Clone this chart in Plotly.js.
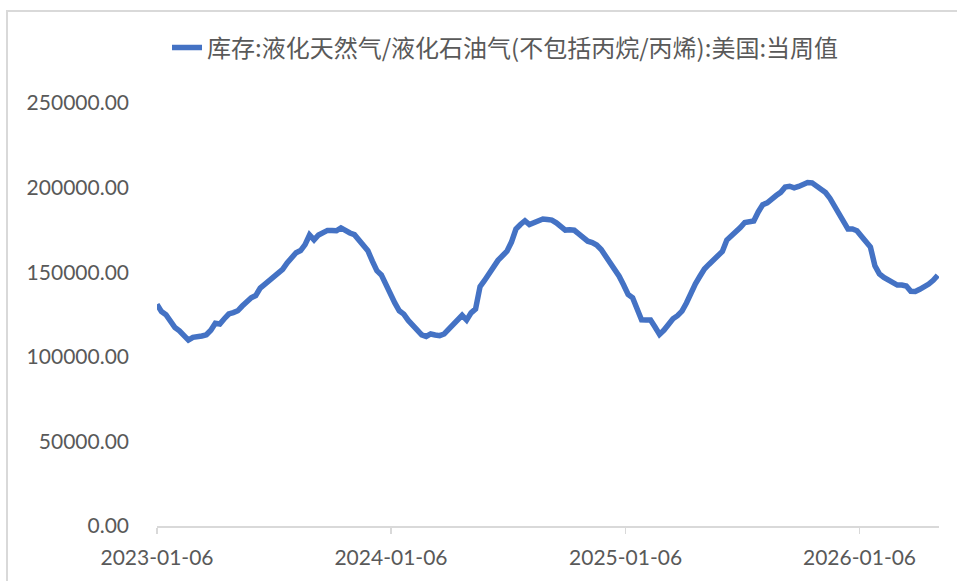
<!DOCTYPE html>
<html>
<head>
<meta charset="utf-8">
<script src="https://cdn.plot.ly/plotly-3.0.1.min.js"></script>
<style>
  html, body { margin: 0; padding: 0; background: #fff; }
  #wrap { position: relative; width: 957px; height: 581px; overflow: hidden; }
  #chart { width: 957px; height: 581px; }
  #frame { position: absolute; left: 6px; top: 10px; width: 960px; height: 580px;
           border-left: 2px solid #d9d9d9; border-top: 2px solid #d9d9d9; pointer-events: none; }
</style>
</head>
<body>
<div id="wrap">
  <div id="chart"></div>
  <div id="frame"></div>
</div>
<script>
// Weekly series, first observation date
const startDate = '2023-01-06';
const seriesName = '库存:液化天然气/液化石油气(不包括丙烷/丙烯):美国:当周值';

// Inventory values
const inventory = [
  131000, 126700, 124900, 120700, 117300, 115400, 112600, 109900, 111500, 112300,
  112300, 113000, 115700, 119800, 119400, 122500, 125300, 126100, 127200, 130000,
  132700, 134900, 136200, 140600, 142800, 144900, 147500, 149000, 151700, 155500,
  158700, 161500, 162800, 166300, 172000, 169100, 172000, 173700, 174700, 174700,
  174500, 176200, 174500, 173200, 172200, 169000, 165900, 162700, 156500, 150900,
  148400, 142300, 137000, 131800, 127200, 125200, 121500, 118900, 115900, 113000,
  112000, 113500, 112900, 112500, 113500, 116100, 119400, 122300, 124500, 121700,
  126000, 128300, 141500, 145100, 149600, 153500, 157000, 159700, 162400, 167800,
  175500, 178200, 180400, 178100, 179300, 180700, 181400, 181100, 180800, 179200,
  177100, 174900, 175100, 174800, 172700, 170600, 168300, 167500, 166100, 163400,
  159500, 155500, 151600, 147600, 142400, 136800, 134900, 127200, 121800, 121700,
  121700, 117600, 113200, 115800, 119500, 122500, 124300, 127000, 131800, 138400,
  143100, 147600, 151900, 154600, 157200, 159300, 162300, 169000, 171200, 173500,
  176400, 179400, 179700, 180300, 185600, 189900, 191000, 192700, 195300, 197200,
  200300, 200800, 199800, 200700, 202100, 203000, 202800, 201100, 199100, 197100,
  193600, 189300, 184800, 181100, 175500, 175500, 174500, 171200, 167700, 164900,
  153800, 149000, 146900, 145400, 143400, 142400, 142400, 141800, 138700, 138600,
  139900, 141200, 143000, 145200, 148100
];

// Tick labels
const xTickVals = ['2023-01-06', '2024-01-06', '2025-01-06', '2026-01-06'];
const yTickVals = [0, 50000, 100000, 150000, 200000, 250000];

// weekly dates for each observation
const dates = inventory.map((_, i) => {
  const d = new Date(startDate + 'T00:00:00Z');
  d.setUTCDate(d.getUTCDate() + 7 * i);
  return d.toISOString().slice(0, 10);
});

const trace = {
  x: dates,
  y: inventory,
  type: 'scatter',
  mode: 'lines',
  name: seriesName,
  line: { color: '#4472C4', width: 5.5, shape: 'linear' },
  hoverinfo: 'x+y'
};

const layout = {
  width: 957,
  height: 581,
  margin: { l: 157, r: 18, t: 103, b: 55 },
  paper_bgcolor: '#ffffff',
  plot_bgcolor: '#ffffff',
  font: { family: 'Lato, "Noto Sans CJK SC", sans-serif', size: 21, color: '#595959' },
  showlegend: true,
  legend: {
    orientation: 'h',
    x: 0.0128, xanchor: 'left',
    y: 1.13, yanchor: 'middle',
    font: { family: '"Noto Sans CJK SC", sans-serif', size: 24, color: '#595959' },
    bgcolor: 'rgba(0,0,0,0)'
  },
  xaxis: {
    type: 'date',
    range: ['2023-01-06', '2026-05-10'],
    tickmode: 'array',
    tickvals: xTickVals,
    ticktext: xTickVals,
    showgrid: false,
    zeroline: false,
    showline: true,
    linecolor: '#d9d9d9',
    linewidth: 2,
    ticks: 'outside',
    ticklen: 6,
    tickwidth: 1.5,
    tickcolor: '#d9d9d9',
    ticklabelstandoff: 6,
    tickfont: { family: 'Lato, sans-serif', size: 21, color: '#595959' },
    fixedrange: true
  },
  yaxis: {
    range: [0, 250000],
    tickmode: 'array',
    tickvals: yTickVals,
    tickformat: '.2f',
    showgrid: false,
    zeroline: false,
    showline: false,
    ticks: '',
    ticklabelstandoff: 27,
    tickfont: { family: 'Lato, sans-serif', size: 21, color: '#595959' },
    fixedrange: true
  }
};

Plotly.newPlot('chart', [trace], layout, { displayModeBar: false, staticPlot: true });
</script>
</body>
</html>
